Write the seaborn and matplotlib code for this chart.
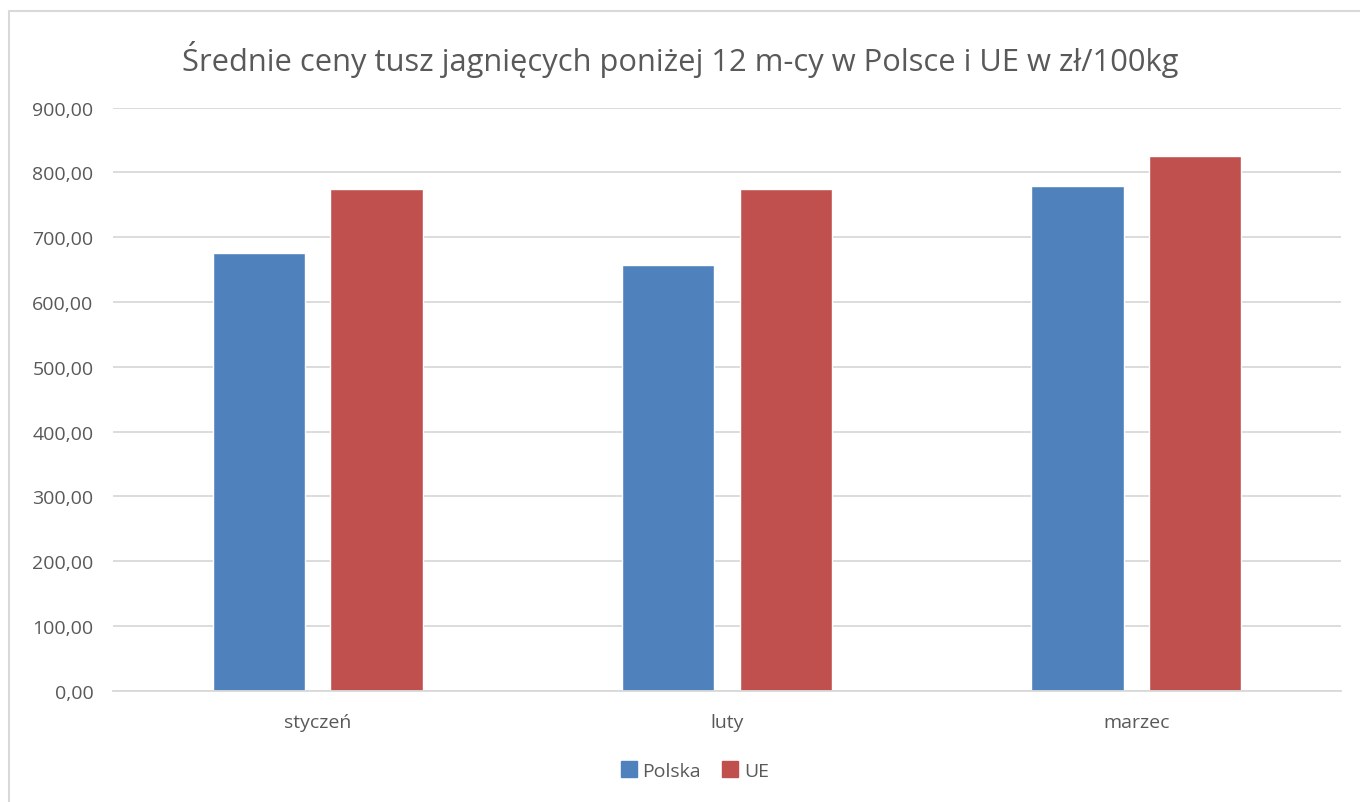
import matplotlib
matplotlib.use("Agg")
import matplotlib.pyplot as plt
import matplotlib.ticker as mticker
from matplotlib.lines import Line2D
import pandas as pd
import seaborn as sns

# Data
months = ["styczeń", "luty", "marzec"]
polska = [675.8, 656.7, 778.4]
ue = [774.9, 775.0, 824.7]
series = ["Polska", "UE"]
colors = ["#4F81BD", "#C0504D"]

df = pd.DataFrame({
    "miesiac": months * 2,
    "cena": polska + ue,
    "seria": ["Polska"] * 3 + ["UE"] * 3,
})

sns.set_theme(style="white")
plt.rcParams["font.family"] = ["Open Sans", "DejaVu Sans"]

fig = plt.figure(figsize=(13.6, 8.03), dpi=100)
ax = fig.add_axes([113 / 1360, 1 - 691.7 / 803, (1341 - 113) / 1360, (691.7 - 108.5) / 803])

sns.barplot(data=df, x="miesiac", y="cena", hue="seria", order=months,
            hue_order=series, palette=colors, width=0.575, gap=0.216,
            saturation=1, ax=ax, legend=False)

ax.set_ylim(0, 900)
ax.set_xlim(-0.5, 2.5)
ax.yaxis.set_major_locator(mticker.MultipleLocator(100))
ax.yaxis.set_major_formatter(mticker.FuncFormatter(lambda v, p: f"{v:.2f}".replace(".", ",")))
ax.grid(axis="y", color="#D9D9D9", linewidth=1.3)
ax.set_axisbelow(True)
for s in ["top", "right", "left"]:
    ax.spines[s].set_visible(False)
ax.spines["bottom"].set_color("#D9D9D9")
ax.spines["bottom"].set_linewidth(1.3)
ax.set_xlabel("")
ax.set_ylabel("")
ax.tick_params(axis="both", length=0, labelsize=14, colors="#595959")
ax.tick_params(axis="y", pad=14)
ax.tick_params(axis="x", pad=16)

fig.text(0.5, 1 - 60 / 803, "Średnie ceny tusz jagnięcych poniżej 12 m-cy w Polsce i UE w zł/100kg",
         ha="center", va="center", fontsize=22.2, color="#595959")

handles = [Line2D([0], [0], marker="s", linestyle="", markersize=11,
                  markerfacecolor=c, markeredgecolor=c) for c in colors]
fig.legend(handles, series, loc="center", bbox_to_anchor=(0.511, 1 - 772 / 803),
           ncol=2, frameon=False, fontsize=14, labelcolor="#595959",
           handlelength=0.8, handletextpad=0.3, columnspacing=1.1)

# outer chart frame (top and left edges visible)
fig.add_artist(Line2D([9 / 1360, 9 / 1360, 1.0], [0.0, 1 - 12 / 803, 1 - 12 / 803],
                      color="#D9D9D9", linewidth=1.5, transform=fig.transFigure))

fig.savefig("out.png", dpi=100)
